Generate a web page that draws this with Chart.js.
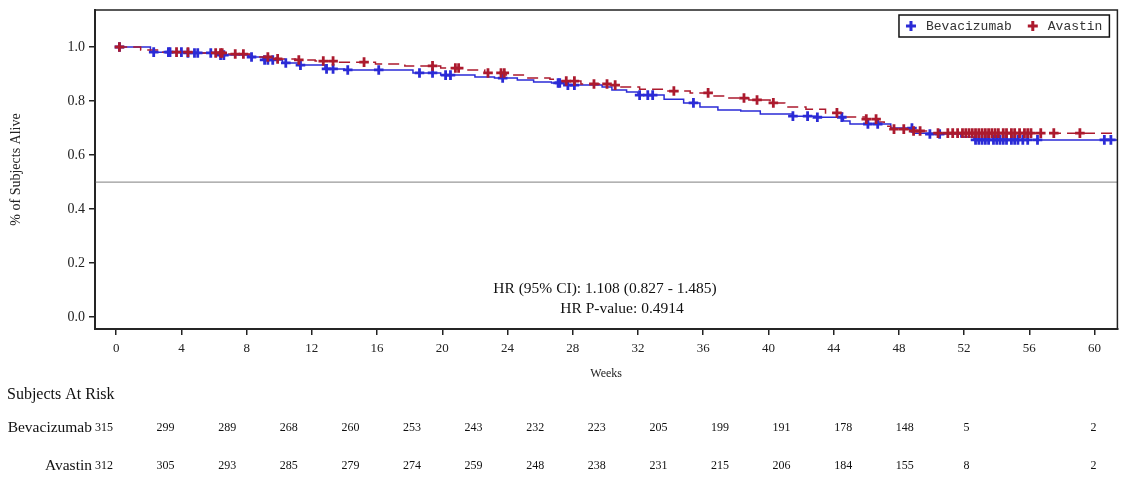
<!DOCTYPE html>
<html>
<head>
<meta charset="utf-8">
<script src="https://cdn.jsdelivr.net/npm/chart.js@4.4.1/dist/chart.umd.min.js"></script>
<style>
  html, body { margin: 0; padding: 0; background: #fff; overflow: hidden; }
  #wrap { width: 1121px; height: 477px; overflow: hidden; }
</style>
</head>
<body>
<div id="wrap"><canvas id="km" width="1125" height="477"></canvas></div>
<script>
// limites dos eixos
const X_MIN = -1.3, X_MAX = 61.4
const Y_MIN = -0.044, Y_MAX = 1.137

const semanas = [0, 4, 8, 12, 16, 20, 24, 28, 32, 36, 40, 44, 48, 52, 56, 60]
const yTicks = [0, 0.2, 0.4, 0.6, 0.8, 1.0]

// curva Bevacizumab (tempo em semanas, sobrevida no degrau)
const bevaTempo = [0, 2.1, 4.2, 6.4, 8.1, 9.0, 10.2, 11.3, 12.8, 14.0, 18.2, 19.9, 22.0, 23.2, 24.6, 25.6, 26.7, 27.6, 29.8, 30.4, 31.3, 32.0, 33.6, 34.8, 35.8, 36.9, 38.3, 39.5, 41.5, 42.9, 44.6, 45.0, 47.5, 48.9, 49.9, 51.8, 52.6]
const bevaSobr = [1.000, 0.981, 0.978, 0.970, 0.963, 0.952, 0.941, 0.933, 0.919, 0.915, 0.904, 0.896, 0.889, 0.885, 0.878, 0.870, 0.867, 0.859, 0.852, 0.841, 0.833, 0.822, 0.807, 0.793, 0.778, 0.767, 0.763, 0.752, 0.744, 0.740, 0.726, 0.715, 0.700, 0.681, 0.678, 0.667, 0.656]
const bevaCensura = [0.2, 2.3, 3.2, 3.3, 4.0, 4.4, 4.8, 5.0, 5.8, 6.4, 6.6, 8.3, 9.1, 9.3, 9.6, 10.4, 11.3, 12.9, 13.3, 14.2, 16.1, 18.6, 19.4, 20.2, 20.5, 23.7, 27.1, 27.2, 27.7, 28.1, 32.1, 32.6, 32.9, 35.4, 41.5, 42.4, 43.0, 44.5, 46.1, 46.7, 48.8, 49.9, 50.5, 52.7, 52.9, 53.1, 53.3, 53.5, 53.8, 54.0, 54.2, 54.4, 54.6, 54.9, 55.1, 55.3, 55.6, 55.9, 56.5, 60.6, 61.0]

// curva Avastin
const avasTempo = [0, 1.5, 2.7, 4.8, 6.7, 8.2, 9.8, 11.0, 12.2, 13.7, 15.9, 17.7, 19.9, 21.4, 22.6, 23.9, 25.1, 26.6, 27.2, 28.5, 30.3, 30.9, 32.1, 33.7, 35.2, 36.4, 37.5, 38.8, 40.1, 41.0, 42.3, 43.5, 44.7, 46.0, 46.7, 47.1, 47.5, 48.7, 49.9]
const avasSobr = [1.000, 0.989, 0.981, 0.978, 0.974, 0.963, 0.956, 0.952, 0.948, 0.944, 0.937, 0.930, 0.922, 0.915, 0.904, 0.896, 0.885, 0.881, 0.874, 0.863, 0.859, 0.852, 0.844, 0.837, 0.830, 0.819, 0.811, 0.804, 0.793, 0.778, 0.770, 0.756, 0.741, 0.733, 0.722, 0.707, 0.696, 0.689, 0.681]
const avasCensura = [0.2, 3.7, 4.4, 6.1, 6.4, 6.5, 7.3, 7.8, 9.3, 9.9, 11.2, 12.7, 13.3, 15.2, 19.4, 20.8, 21.0, 22.8, 23.6, 23.8, 27.6, 28.1, 29.3, 30.1, 30.6, 34.2, 36.3, 38.5, 39.3, 40.3, 44.2, 46.0, 46.6, 47.7, 48.3, 48.9, 49.3, 50.4, 51.0, 51.3, 51.6, 51.9, 52.1, 52.3, 52.5, 52.7, 52.9, 53.1, 53.3, 53.5, 53.7, 53.9, 54.1, 54.4, 54.6, 54.9, 55.1, 55.4, 55.7, 55.9, 56.1, 56.7, 57.5, 59.1]

// tabela de pacientes em risco
const riscoBeva = [315, 299, 289, 268, 260, 253, 243, 232, 223, 205, 199, 191, 178, 148, 5, 2]
const riscoAvas = [312, 305, 293, 285, 279, 274, 259, 248, 238, 231, 215, 206, 184, 155, 8, 2]

const hrTexto = 'HR (95% CI): 1.108 (0.827 - 1.485)'
const pTexto = 'HR P-value: 0.4914'

const AZUL = '#2b2bd6'
const VERMELHO = '#ac1a2e'
const SERIF = '"Liberation Serif", "Times New Roman", serif'
const MONO = '"Liberation Mono", "Courier New", monospace'

// transforma os degraus em pontos, esticando ate o fim do eixo
function degraus(tempo, sobr) {
    let pts = tempo.map((t, i) => ({ x: t, y: sobr[i] }))
    pts.push({ x: X_MAX, y: sobr[sobr.length - 1] })
    return pts
}

function sobrEm(tempo, sobr, t) {
    let s = sobr[0]
    for (let i = 0; i < tempo.length; i++) {
        if (tempo[i] <= t) s = sobr[i]
    }
    return s
}

function censuras(tempo, sobr, cens) {
    return cens.map(t => ({ x: t, y: sobrEm(tempo, sobr, t) }))
}

// moldura, legenda, textos de HR e tabela de risco
const extras = {
    id: 'extras',
    afterDraw(chart) {
        const ctx = chart.ctx
        const area = chart.chartArea
        ctx.save()

        // moldura do grafico
        ctx.strokeStyle = '#222'
        ctx.lineWidth = 1.5
        ctx.strokeRect(area.left, area.top, area.right - area.left, area.bottom - area.top)

        // legenda com caixa
        ctx.font = '13px ' + MONO
        ctx.textBaseline = 'middle'
        ctx.textAlign = 'left'
        let itens = [{ txt: 'Bevacizumab', cor: AZUL }, { txt: 'Avastin', cor: VERMELHO }]
        let larg = 6
        for (let it of itens) larg += 12 + 9 + ctx.measureText(it.txt).width + 15
        larg += -8
        let bx = area.right - 8 - larg
        let by = area.top + 5
        let bh = 22
        ctx.fillStyle = '#fff'
        ctx.fillRect(bx, by, larg, bh)
        ctx.strokeStyle = '#111'
        ctx.lineWidth = 1.5
        ctx.strokeRect(bx, by, larg, bh)
        let cx = bx + 6
        for (let it of itens) {
            ctx.strokeStyle = it.cor
            ctx.lineWidth = 3
            ctx.beginPath()
            ctx.moveTo(cx + 1, by + bh / 2); ctx.lineTo(cx + 11, by + bh / 2)
            ctx.moveTo(cx + 6, by + bh / 2 - 5); ctx.lineTo(cx + 6, by + bh / 2 + 5)
            ctx.stroke()
            ctx.fillStyle = '#333'
            ctx.fillText(it.txt, cx + 21, by + bh / 2 + 1)
            cx += 12 + 9 + ctx.measureText(it.txt).width + 15
        }

        // textos do HR
        ctx.fillStyle = '#111'
        ctx.font = '15.5px ' + SERIF
        ctx.textAlign = 'center'
        ctx.fillText(hrTexto, area.left + 510, 289)
        ctx.fillText(pTexto, area.left + 527, 309)

        // tabela de risco
        ctx.textAlign = 'left'
        ctx.font = '16px ' + SERIF
        ctx.fillText('Subjects At Risk', 7, 395)
        ctx.textAlign = 'right'
        ctx.font = '15.5px ' + SERIF
        ctx.fillText('Bevacizumab', 92, 428)
        ctx.fillText('Avastin', 92, 466)
        ctx.font = '12px ' + SERIF
        ctx.textAlign = 'center'
        let linhas = [[riscoBeva, 428], [riscoAvas, 466]]
        for (let [vals, yy] of linhas) {
            vals.forEach((v, k) => {
                let xx = k < vals.length - 1 ? area.left + 9 + k * 61.6 : area.right - 24
                ctx.fillText(String(v), xx, yy)
            })
        }
        ctx.restore()
    }
}

const config = {
    type: 'line',
    data: {
        datasets: [
            {
                label: 'Avastin',
                data: censuras(avasTempo, avasSobr, avasCensura),
                showLine: false,
                pointStyle: 'cross',
                pointRadius: 4.8,
                pointBorderWidth: 2.8,
                borderColor: VERMELHO,
                backgroundColor: VERMELHO
            },
            {
                label: 'Bevacizumab',
                data: censuras(bevaTempo, bevaSobr, bevaCensura),
                showLine: false,
                pointStyle: 'cross',
                pointRadius: 4.8,
                pointBorderWidth: 2.8,
                borderColor: AZUL,
                backgroundColor: AZUL
            },
            {
                label: 'Avastin curva',
                data: degraus(avasTempo, avasSobr),
                stepped: 'before',
                borderColor: VERMELHO,
                borderWidth: 1.5,
                borderDash: [11, 6],
                pointRadius: 0,
                fill: false
            },
            {
                label: 'Bevacizumab curva',
                data: degraus(bevaTempo, bevaSobr),
                stepped: 'before',
                borderColor: AZUL,
                borderWidth: 1.5,
                pointRadius: 0,
                fill: false
            },
            {
                label: 'Mediana',
                data: [{ x: X_MIN, y: 0.5 }, { x: X_MAX, y: 0.5 }],
                borderColor: '#999',
                borderWidth: 1.3,
                pointRadius: 0,
                fill: false
            }
        ]
    },
    options: {
        responsive: false,
        animation: false,
        events: [],
        layout: { padding: { left: 0, right: 0, top: 10, bottom: 92 } },
        plugins: {
            legend: { display: false },
            tooltip: { enabled: false }
        },
        scales: {
            x: {
                type: 'linear',
                min: X_MIN,
                max: X_MAX,
                afterBuildTicks: axis => { axis.ticks = semanas.map(v => ({ value: v })) },
                afterFit: s => { s.height = 56; s.paddingLeft = 0; s.paddingRight = 0 },
                ticks: {
                    color: '#222',
                    font: { family: SERIF, size: 13 },
                    padding: 6,
                    maxRotation: 0,
                    autoSkip: false
                },
                grid: { drawOnChartArea: false, drawTicks: true, tickLength: 6, color: '#222', lineWidth: 1.5 },
                border: { display: true, color: '#333', width: 2 },
                title: {
                    display: true,
                    text: 'Weeks',
                    color: '#222',
                    font: { family: SERIF, size: 12 },
                    padding: { top: 4, bottom: 4 }
                }
            },
            y: {
                type: 'linear',
                min: Y_MIN,
                max: Y_MAX,
                afterBuildTicks: axis => { axis.ticks = yTicks.map(v => ({ value: v })) },
                afterFit: s => { s.width = 95; s.paddingTop = 0; s.paddingBottom = 0 },
                ticks: {
                    color: '#222',
                    font: { family: SERIF, size: 14 },
                    padding: 4,
                    callback: v => Number(v).toFixed(1)
                },
                grid: { drawOnChartArea: false, drawTicks: true, tickLength: 6, color: '#222', lineWidth: 1.5 },
                border: { display: true, color: '#333', width: 2 },
                title: {
                    display: true,
                    text: '% of Subjects Alive',
                    color: '#222',
                    font: { family: SERIF, size: 14 },
                    padding: { top: 8, bottom: 0 }
                }
            }
        }
    },
    plugins: [extras]
}

const grafico = new Chart(document.getElementById('km'), config)
</script>
</body>
</html>
